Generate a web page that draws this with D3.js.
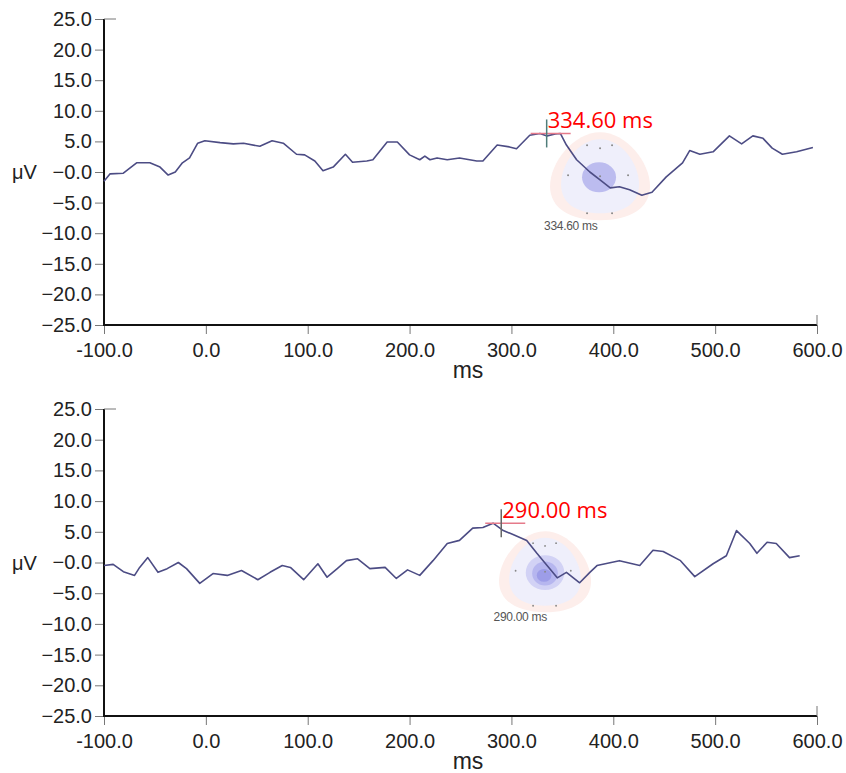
<!DOCTYPE html>
<html>
<head>
<meta charset="utf-8">
<script src="https://cdn.jsdelivr.net/npm/d3@7"></script>
<style>
  body { margin: 0; background: #fff; }
  svg { display: block; }
  .tick text { font-family: "Liberation Sans", Arial, sans-serif; font-size: 20px; fill: #222; }
  .tick line { stroke: #777; }
  .domain { stroke: none; }
</style>
</head>
<body>
<svg id="chart" width="846" height="773"></svg>
<script>
// --- data ---
const yTicks = [25, 20, 15, 10, 5, 0, -5, -10, -15, -20, -25];
const xTicks = [-100, 0, 100, 200, 300, 400, 500, 600];

// top trace (ms, uV)
const topTime = [-100, -94, -81, -68, -55, -45, -37, -30, -23, -16, -8, -1, 14, 27, 37, 53, 65, 76, 89, 97,
  107, 115, 125, 137, 144, 158, 164, 178, 188, 200, 210, 215, 220, 227, 237, 249, 266, 272, 286, 298,
  305, 318, 328, 335, 343, 348, 354, 364, 377, 387, 397, 406, 416, 428, 438, 452, 468, 475, 485, 498,
  514, 526, 537, 547, 556, 566, 580, 596];
const topVal = [-1.5, -0.3, -0.2, 1.5, 1.5, 0.8, -0.5, 0, 1.5, 2.3, 4.7, 5.1, 4.8, 4.6, 4.7, 4.2, 5.1, 4.7, 2.9, 2.8,
  1.8, 0.2, 0.8, 2.9, 1.6, 1.8, 2.0, 4.9, 4.9, 2.8, 2.0, 2.6, 2.0, 2.3, 2.0, 2.3, 1.8, 1.8, 4.4, 4.1,
  3.8, 6.0, 6.3, 5.9, 6.2, 6.3, 4.4, 2.0, 0, -1.3, -2.6, -2.4, -2.9, -3.8, -3.3, -0.8, 1.5, 3.5, 2.9, 3.3,
  5.9, 4.6, 5.9, 5.5, 3.9, 2.9, 3.3, 4.0];

// bottom trace (ms, uV)
const botTime = [-100, -91, -81, -70, -65, -57, -47, -38, -27, -19, -6, 7, 21, 35, 51, 63, 75, 83, 96, 110,
  119, 129, 138, 149, 161, 176, 187, 198, 210, 223, 237, 249, 262, 272, 282, 292, 301, 315, 325, 335,
  345, 354, 367, 377, 384, 406, 426, 439, 449, 466, 480, 498, 511, 521, 534, 541, 551, 560, 573, 583];
const botVal = [-0.5, -0.3, -1.5, -2.1, -0.8, 0.8, -1.6, -1.0, 0, -1.0, -3.4, -1.8, -2.1, -1.3, -2.8, -1.6, -0.5, -0.8, -2.8, -0.2,
  -2.4, -1.0, 0.3, 0.6, -1.0, -0.8, -2.6, -1.2, -2.1, 0.3, 3.1, 3.6, 5.6, 5.7, 6.4, 5.2, 4.6, 3.6, 1.5, -0.5,
  -2.5, -1.6, -3.3, -1.6, -0.5, 0.3, -0.5, 2.0, 1.8, 0.3, -2.3, -0.2, 1.1, 5.2, 3.1, 1.5, 3.3, 3.1, 0.8, 1.1];

// latency markers and topomap centres (ms, uV)
const markerLabels = ["334.60 ms", "290.00 ms"];
const markerTime = [334.6, 290];
const markerVal = [6.3, 6.4];
const topoTime = [387, 333];
const topoVal = [-0.7, -1.5];

const panels = [
  { time: topTime, val: topVal, top: 19, bottom: 325, idx: 0, topoScale: 1 },
  { time: botTime, val: botVal, top: 409, bottom: 716, idx: 1, topoScale: 0.92 }
];

const svg = d3.select("#chart");
const x = d3.scaleLinear().domain([-100, 600]).range([104, 817]);

const fmtY = d => (d <= 0 ? "\u2212" + Math.abs(d).toFixed(1) : d.toFixed(1));

panels.forEach(p => {
  const y = d3.scaleLinear().domain([-25, 25]).range([p.bottom, p.top]);
  const g = svg.append("g");
  const i = p.idx;

  // topomap (drawn under the trace)
  const cx = x(topoTime[i]), cy = y(topoVal[i]);
  const topo = g.append("g").attr("transform", `translate(${cx},${cy}) scale(${p.topoScale})`);
  topo.append("path")
    .attr("d", "M0,-44 C26,-44 50,-14 50,10 C50,32 30,44 0,44 C-30,44 -50,32 -50,10 C-50,-14 -26,-44 0,-44 Z")
    .attr("fill", "#fdeeeb");
  topo.append("path")
    .attr("d", "M0,-37 C22,-37 39,-12 39,8 C39,27 24,37 0,37 C-24,37 -39,27 -39,8 C-39,-12 -22,-37 0,-37 Z")
    .attr("fill", "#efeffb");
  if (i === 0) {
    topo.append("ellipse").attr("cx", -1).attr("cy", 1)
      .attr("rx", 17).attr("ry", 15).attr("fill", "#bcbcef");
  } else {
    topo.append("ellipse").attr("cx", 0).attr("cy", 1)
      .attr("rx", 21).attr("ry", 19).attr("fill", "#d2d2f5");
    topo.append("ellipse").attr("cx", 0).attr("cy", 2)
      .attr("rx", 14).attr("ry", 13).attr("fill", "#b6b6ef");
    topo.append("ellipse").attr("cx", -1).attr("cy", 4)
      .attr("rx", 8).attr("ry", 7).attr("fill", "#9d9de8");
  }
  const dots = [[-13, -31], [0, -28], [12, -31], [-32, -1], [28, -1], [0, 0], [-13, 37], [12, 37]];
  topo.selectAll("circle.e").data(dots).enter().append("circle")
    .attr("cx", d => d[0]).attr("cy", d => d[1]).attr("r", 1).attr("fill", "#888");
  g.append("text")
    .attr("x", cx - 56 * p.topoScale).attr("y", cy + 54 * p.topoScale)
    .attr("font-family", "'Liberation Sans Narrow', 'Liberation Sans', Arial, sans-serif")
    .attr("font-size", 12).attr("fill", "#555").attr("letter-spacing", -0.3)
    .text(markerLabels[i]);

  // axes
  g.append("g").attr("transform", `translate(${x(-100)},0)`)
    .call(d3.axisLeft(y).tickValues(yTicks).tickFormat(fmtY).tickSize(9).tickPadding(3));
  g.append("g").attr("transform", `translate(0,${p.bottom})`)
    .call(d3.axisBottom(x).tickValues(xTicks).tickFormat(d => d.toFixed(1)).tickSize(9).tickPadding(9));

  g.append("line").attr("x1", x(-100)).attr("x2", x(-100)).attr("y1", y(25)).attr("y2", y(-25) + 1)
    .attr("stroke", "#111").attr("stroke-width", 2);
  g.append("line").attr("x1", x(-100)).attr("x2", x(600)).attr("y1", y(-25)).attr("y2", y(-25))
    .attr("stroke", "#111").attr("stroke-width", 2);
  g.append("line").attr("x1", x(-100)).attr("x2", x(-100) + 12).attr("y1", y(25)).attr("y2", y(25))
    .attr("stroke", "#777");
  g.append("line").attr("x1", x(600)).attr("x2", x(600)).attr("y1", y(-25) - 10).attr("y2", y(-25))
    .attr("stroke", "#777");

  g.append("text").attr("x", 12).attr("y", y(0) + 7)
    .attr("font-family", "'Liberation Sans', Arial, sans-serif").attr("font-size", 20).attr("fill", "#222")
    .text("\u03bcV");
  g.append("text").attr("x", 468).attr("y", p.bottom + 53)
    .attr("text-anchor", "middle")
    .attr("font-family", "'Liberation Sans', Arial, sans-serif").attr("font-size", 23).attr("fill", "#222")
    .text("ms");

  // trace
  const pts = p.time.map((t, k) => [t, p.val[k]]);
  g.append("path").datum(pts)
    .attr("fill", "none").attr("stroke", "#4c4c84").attr("stroke-width", 1.6)
    .attr("stroke-linejoin", "round")
    .attr("d", d3.line().x(d => x(d[0])).y(d => y(d[1])));

  // cursor
  const mx = x(markerTime[i]), my = y(markerVal[i]);
  g.append("line").attr("x1", mx - 16).attr("x2", mx + 24).attr("y1", my).attr("y2", my)
    .attr("stroke", "#e57a8a").attr("stroke-width", 1.5);
  g.append("line").attr("x1", mx).attr("x2", mx).attr("y1", my - 14).attr("y2", my + 14)
    .attr("stroke", i === 0 ? "#4f7d7a" : "#666").attr("stroke-width", 1.5);
  g.append("text").attr("x", mx + 1).attr("y", my - 5)
    .attr("font-family", "'Open Sans', sans-serif").attr("font-size", 22).attr("fill", "#f00")
    .text(markerLabels[i]);
});
</script>
</body>
</html>
